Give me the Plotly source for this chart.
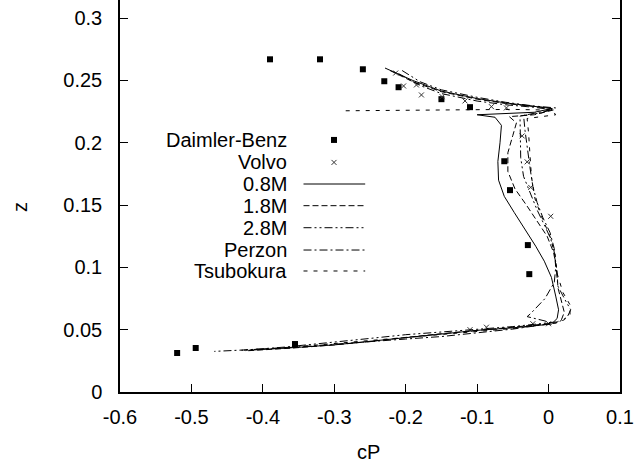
import plotly.graph_objects as go

# Measured surface pressure coefficient profiles
daimler_cp = [-0.39, -0.32, -0.26, -0.23, -0.21, -0.15, -0.11, -0.062, -0.054, -0.029, -0.027, -0.355, -0.494, -0.52]
daimler_z = [0.267, 0.267, 0.259, 0.2494, 0.2446, 0.235, 0.2286, 0.1852, 0.162, 0.1179, 0.0946, 0.0385, 0.0353, 0.0313]

volvo_cp = [-0.214, -0.203, -0.185, -0.178, -0.149, -0.117, -0.080, -0.059, -0.037, -0.030, -0.025, 0.003,
            -0.110, -0.087, -0.022, 0.000]
volvo_z = [0.256, 0.2456, 0.2464, 0.2384, 0.237, 0.2336, 0.229, 0.228, 0.2055, 0.1847, 0.1642, 0.141,
           0.050, 0.052, 0.0548, 0.0548]

# Computed profiles
m08_cp = [-0.229, -0.19, -0.15, -0.10, -0.06, -0.03, -0.005, 0.005, -0.02, -0.06, -0.10, -0.075, -0.066, -0.068,
          -0.071, -0.070, -0.062, -0.048, -0.033, -0.018, -0.006, 0.004, 0.010, 0.014, 0.012, 0.004,
          -0.05, -0.10, -0.15, -0.20, -0.25, -0.30, -0.36, -0.42]
m08_z = [0.260, 0.250, 0.2415, 0.2355, 0.232, 0.230, 0.2285, 0.2275, 0.2245, 0.2235, 0.2225, 0.2205, 0.214, 0.200,
         0.185, 0.170, 0.157, 0.144, 0.131, 0.117, 0.105, 0.092, 0.077, 0.066, 0.059, 0.0545,
         0.0515, 0.0495, 0.0465, 0.0435, 0.0405, 0.0378, 0.0355, 0.0335]

m18_cp = [-0.222, -0.19, -0.15, -0.10, -0.06, -0.03, 0.0, 0.008, -0.02, -0.055, -0.045, -0.050, -0.057, -0.057,
          -0.047, -0.031, -0.013, -0.002, 0.007, 0.012, 0.013, 0.018, 0.022, 0.018, 0.010,
          -0.05, -0.10, -0.15, -0.20, -0.25, -0.30, -0.36, -0.425]
m18_z = [0.258, 0.249, 0.241, 0.235, 0.2315, 0.2295, 0.228, 0.2265, 0.2225, 0.221, 0.216, 0.206, 0.192, 0.177,
         0.163, 0.150, 0.134, 0.125, 0.112, 0.097, 0.084, 0.072, 0.064, 0.058, 0.0555,
         0.052, 0.0495, 0.0468, 0.0438, 0.0405, 0.0378, 0.0352, 0.0330]

m28_cp = [-0.205, -0.18, -0.15, -0.10, -0.06, -0.02, 0.01, -0.01, -0.04, -0.040, -0.039, -0.035, -0.026, -0.016,
          -0.005, 0.003, 0.009, 0.011, 0.013, 0.024, 0.031, 0.026, 0.015,
          -0.05, -0.10, -0.15, -0.20, -0.25, -0.30, -0.37, -0.43]
m28_z = [0.258, 0.249, 0.2425, 0.2365, 0.2325, 0.2295, 0.228, 0.224, 0.2215, 0.205, 0.188, 0.173, 0.160, 0.146,
         0.133, 0.123, 0.110, 0.097, 0.085, 0.073, 0.066, 0.060, 0.0565,
         0.0525, 0.0505, 0.0485, 0.046, 0.043, 0.040, 0.036, 0.0335]

perzon_cp = [-0.21, -0.18, -0.15, -0.10, -0.06, -0.02, 0.005, -0.02, -0.035, -0.033, -0.030, -0.026, -0.022,
             -0.016, -0.008, 0.002, 0.008, 0.010, 0.008, -0.005, -0.025, -0.030, -0.005, 0.005,
             -0.05, -0.10, -0.15, -0.20, -0.25, -0.30, -0.38, -0.468]
perzon_z = [0.2555, 0.246, 0.2395, 0.2335, 0.2305, 0.2285, 0.2265, 0.2235, 0.222, 0.210, 0.195, 0.180, 0.165,
            0.152, 0.140, 0.128, 0.115, 0.100, 0.088, 0.075, 0.063, 0.0605, 0.057, 0.055,
            0.0505, 0.0475, 0.0445, 0.0425, 0.0405, 0.038, 0.035, 0.0326]

tsub_cp = [-0.284, -0.20, -0.10, -0.05, 0.005, 0.01, -0.03, -0.028, -0.026, -0.024, -0.019, -0.010, 0.002,
           0.009, 0.012, 0.020, 0.030, 0.030, 0.022, 0.012,
           -0.05, -0.10, -0.15, -0.20, -0.25, -0.30, -0.36, -0.43]
tsub_z = [0.2257, 0.2262, 0.2265, 0.2268, 0.2262, 0.2225, 0.2195, 0.208, 0.190, 0.173, 0.155, 0.141, 0.125,
          0.110, 0.095, 0.080, 0.070, 0.062, 0.058, 0.0555,
          0.051, 0.0485, 0.046, 0.0435, 0.041, 0.0385, 0.036, 0.0335]

x_ticks = [-0.6, -0.5, -0.4, -0.3, -0.2, -0.1, 0.0, 0.1]
x_tick_labels = ["-0.6", "-0.5", "-0.4", "-0.3", "-0.2", "-0.1", "0", "0.1"]
y_ticks = [0.0, 0.05, 0.1, 0.15, 0.2, 0.25, 0.3]
y_tick_labels = ["0", "0.05", "0.1", "0.15", "0.2", "0.25", "0.3"]

FONT = "Liberation Sans, Arial, Helvetica, sans-serif"
FS = 20

line_series = [
    ("0.8M", m08_cp, m08_z, "solid"),
    ("1.8M", m18_cp, m18_z, "6px,3px"),
    ("2.8M", m28_cp, m28_z, "8px,3px,2px,3px,2px,3px"),
    ("Perzon", perzon_cp, perzon_z, "8px,3px,2px,3px"),
    ("Tsubokura", tsub_cp, tsub_z, "4px,6px"),
]

fig = go.Figure()

fig.add_trace(go.Scatter(x=daimler_cp, y=daimler_z, mode="markers", name="Daimler-Benz",
                         marker=dict(symbol="square", size=6, color="black"), showlegend=False))
fig.add_trace(go.Scatter(x=volvo_cp, y=volvo_z, mode="markers", name="Volvo",
                         marker=dict(symbol="x-thin", size=5, color="#333", line=dict(width=1, color="#333")),
                         showlegend=False))
for name, xs, zs, dash in line_series:
    fig.add_trace(go.Scatter(x=xs, y=zs, mode="lines", name=name,
                             line=dict(color="black", width=1, dash=dash), showlegend=False))

# Key: right-aligned labels with samples to the right, drawn on an overlay axis in [0,1]
key_rows = [0.643, 0.5857, 0.5306, 0.4753, 0.4191, 0.3622, 0.3087]
key_text_x = 0.337
key_line = [0.367, 0.4904]
key_mark_x = 0.428
key_names = ["Daimler-Benz", "Volvo"] + [s[0] for s in line_series]

fig.add_trace(go.Scatter(x=[key_mark_x], y=[key_rows[0]], xaxis="x2", yaxis="y2", mode="markers",
                         marker=dict(symbol="square", size=6, color="black"), showlegend=False, hoverinfo="skip"))
fig.add_trace(go.Scatter(x=[key_mark_x], y=[key_rows[1]], xaxis="x2", yaxis="y2", mode="markers",
                         marker=dict(symbol="x-thin", size=5, color="#333", line=dict(width=1, color="#333")),
                         showlegend=False, hoverinfo="skip"))
for (name, _, _, dash), ry in zip(line_series, key_rows[2:]):
    fig.add_trace(go.Scatter(x=key_line, y=[ry, ry], xaxis="x2", yaxis="y2", mode="lines",
                             line=dict(color="black", width=1, dash=dash), showlegend=False, hoverinfo="skip"))

annotations = []
for name, ry in zip(key_names, key_rows):
    annotations.append(dict(x=key_text_x, y=ry, xref="paper", yref="paper", text=name, showarrow=False,
                            xanchor="right", yanchor="middle", font=dict(family=FONT, size=FS, color="black")))
annotations.append(dict(x=-0.2, y=0.472, xref="paper", yref="paper", text="z", showarrow=False,
                        textangle=-90, xanchor="center", yanchor="middle",
                        font=dict(family=FONT, size=FS, color="black")))
annotations.append(dict(x=0.496, y=-0.153, xref="paper", yref="paper", text="cP", showarrow=False,
                        xanchor="center", yanchor="middle", font=dict(family=FONT, size=FS, color="black")))

fig.update_layout(
    width=639, height=462,
    margin=dict(l=120, r=19, t=0, b=70),
    paper_bgcolor="white", plot_bgcolor="white",
    font=dict(family=FONT, size=FS, color="black"),
    xaxis=dict(range=[-0.6, 0.1], tickvals=x_ticks, ticktext=x_tick_labels, ticks="inside", ticklen=8,
               tickwidth=1, tickcolor="black", showline=True, linecolor="black", linewidth=1.5,
               showgrid=False, zeroline=False, mirror=False, ticklabelstandoff=6),
    yaxis=dict(range=[0, 0.3146], tickvals=y_ticks, ticktext=y_tick_labels, ticks="inside", ticklen=8,
               tickwidth=1, tickcolor="black", showline=True, linecolor="black", linewidth=1.5,
               showgrid=False, zeroline=False, mirror="allticks", ticklabelstandoff=12),
    xaxis2=dict(overlaying="x", range=[0, 1], visible=False),
    yaxis2=dict(overlaying="y", range=[0, 1], visible=False),
    annotations=annotations,
    showlegend=False,
)

fig.write_html("out.html")
